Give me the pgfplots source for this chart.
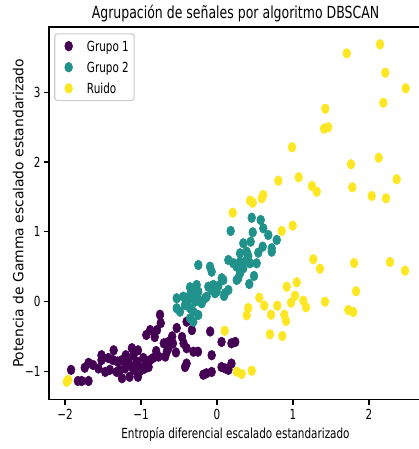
\documentclass[border=0pt]{standalone}
\usepackage{pgfplots}
\pgfplotsset{compat=1.18}
\usepackage{fontspec}
\setmainfont{DejaVu Sans}
\usepackage{graphicx}

\definecolor{vpurple}{HTML}{440154}
\definecolor{vteal}{HTML}{21918C}
\definecolor{vyellow}{HTML}{FDE725}

% narrow horizontal text
\newcommand{\sq}[1]{\scalebox{0.75}[1]{#1}}

\pgfplotstableread{
x y
-1.92 -0.98
-1.83 -1.14
-1.78 -1.14
-1.69 -1.14
-1.69 -0.88
-1.63 -0.91
-1.56 -0.96
-1.52 -0.77
-1.52 -0.84
-1.47 -1.01
-1.41 -0.98
-1.36 -0.70
-1.37 -0.84
-1.31 -0.86
-1.25 -0.84
-1.28 -0.98
-1.25 -1.10
-1.21 -0.96
-1.12 -0.67
-1.10 -0.77
-1.04 -0.70
-1.15 -1.08
-1.12 -0.94
-1.06 -0.86
-1.01 -0.94
-1.04 -1.08
-0.97 -0.81
-0.93 -0.86
-0.88 -0.84
-0.84 -0.81
-0.77 -0.79
-0.95 -0.96
-0.90 -0.94
-0.93 -0.48
-0.88 -0.41
-0.82 -0.51
-0.75 -0.19
-0.74 -0.31
-0.79 -0.41
-0.68 -0.79
-0.64 -0.58
-0.64 -0.67
-0.66 -0.72
-0.53 -0.38
-0.54 -0.73
-0.46 -0.51
-0.44 -0.60
-0.40 -0.67
-0.42 -0.94
-0.40 -0.89
-0.40 -0.29
-0.33 -0.41
-0.31 -0.72
-0.25 -0.72
-0.18 -1.05
-0.14 -1.03
-0.07 -1.01
-0.09 -0.43
-0.07 -0.77
0.06 -0.58
0.06 -0.94
0.11 -0.96
0.19 -0.60
0.24 -0.58
0.19 -0.89
0.15 -0.98
-1.43 -0.81
-1.20 -0.77
-1.17 -0.85
-0.99 -0.98
-1.09 -0.98
-1.32 -1.01
-1.74 -0.95
-0.80 -0.71
-0.70 -0.60
-0.59 -0.50
-0.58 -0.60
}\grupouno

\pgfplotstableread{
x y
0.457 1.201
0.575 1.168
0.180 1.011
0.470 0.992
0.609 1.049
0.675 0.953
0.786 0.882
0.346 0.834
0.443 0.857
0.601 0.786
0.720 0.763
0.720 0.714
0.303 0.691
0.391 0.714
0.543 0.700
0.412 0.652
0.149 0.595
0.214 0.548
0.303 0.571
0.391 0.595
0.434 0.548
0.259 0.499
0.346 0.476
0.522 0.548
-0.246 0.523
-0.092 0.499
-0.070 0.427
0.062 0.333
0.083 0.308
0.280 0.333
0.303 0.404
0.487 0.366
0.425 0.251
-0.355 0.204
-0.267 0.237
-0.246 0.141
-0.312 0.118
-0.114 0.212
-0.070 0.165
-0.026 0.118
0.017 0.222
0.105 0.118
0.149 0.165
0.092 0.079
-0.530 0.046
-0.443 0.069
-0.378 0.022
-0.355 0.093
-0.289 -0.003
-0.246 0.022
-0.201 -0.026
-0.158 0.046
-0.136 0.069
-0.530 -0.097
-0.421 -0.050
-0.355 -0.097
-0.312 -0.146
-0.246 -0.194
-0.487 -0.146
-0.355 -0.241
-0.312 -0.290
-0.049 0.237
-0.004 0.141
0.259 0.308
}\grupodos

\pgfplotstableread{
x y
2.145 3.687
1.707 3.558
2.214 3.280
2.483 3.057
2.188 2.850
1.425 2.764
1.408 2.477
1.464 2.498
0.987 2.211
2.128 2.062
1.763 1.967
2.364 1.752
0.807 1.732
1.075 1.781
1.250 1.656
1.780 1.637
1.312 1.574
2.036 1.513
2.224 1.480
0.434 1.445
0.470 1.416
0.588 1.480
0.609 1.527
0.207 1.273
0.851 1.011
0.996 1.087
1.267 0.605
1.355 0.470
1.803 0.552
2.276 0.566
2.474 0.442
0.917 0.212
1.049 0.275
1.026 0.083
0.974 -0.017
1.136 0.011
1.171 -0.083
1.421 -0.003
1.829 0.146
1.728 -0.122
1.793 -0.151
0.557 0.054
0.622 -0.060
0.793 -0.060
0.412 -0.093
0.391 -0.198
0.711 -0.189
0.886 -0.189
0.908 -0.280
0.101 -0.419
0.697 -0.470
0.859 -0.495
0.259 -1.006
0.325 -1.039
0.457 -0.992
-1.978 -1.150
-1.957 -1.125
}\ruido

\begin{document}
\begin{tikzpicture}
\useasboundingbox (-35.28pt,-35.5pt) rectangle (266.4pt,287.8pt);
\clip (-35.28pt,-35.5pt) rectangle (266.4pt,287.8pt);
\begin{axis}[
  at={(0pt,0pt)}, anchor=south west,
  scale only axis,
  width=268.56pt, height=268.34pt,
  xmin=-2.2105, xmax=2.697,
  ymin=-1.408, ymax=3.935,
  axis line style={line width=0.8pt, black},
  tick style={line width=0.8pt, black},
  tick align=outside,
  major tick length=3.5pt,
  xtick={-2,-1,0,1,2},
  xticklabels={\sq{−2},\sq{−1},\sq{0},\sq{1},\sq{2}},
  ytick={-1,0,1,2,3},
  yticklabels={\sq{−1},\sq{0},\sq{1},\sq{2},\sq{3}},
  xtick pos=bottom, ytick pos=left,
  tick label style={font=\fontsize{10}{12}\selectfont, inner sep=0pt},
  xticklabel style={anchor=base, yshift=-10.6pt},
  yticklabel style={anchor=east, xshift=-2.5pt},
  title={\sq{Agrupación de señales por algoritmo DBSCAN}},
  title style={at={(axis description cs:0.5,1)}, anchor=base, yshift=0.1pt,
    inner sep=0pt, font=\fontsize{12}{14}\selectfont},
  xlabel={\sq{Entropía diferencial escalado estandarizado}},
  xlabel style={at={(axis description cs:0.5,0)}, anchor=base, yshift=-27.8pt,
    inner sep=0pt, font=\fontsize{10}{12}\selectfont},
  ylabel={Potencia de Gamma escalado estandarizado},
  ylabel style={at={(axis description cs:0,0.5)}, anchor=base, yshift=18.5pt,
    inner sep=0pt, font=\fontsize{10}{12}\selectfont},
  legend style={at={(axis description cs:0.014,0.983)}, anchor=north west,
    draw=black!20, line width=0.8pt, rounded corners=2pt,
    fill=white, fill opacity=0.8, text opacity=1,
    font=\fontsize{10}{12}\selectfont,
    inner xsep=3.8pt, inner ysep=2pt, row sep=1.6pt, column sep=3.2pt,
    nodes={inner sep=0pt, anchor=base west}},
  legend cell align=left,
  legend image code/.code={
    \path[draw=none, fill=none] (0pt,-3.2pt) rectangle (16.2pt,10.4pt);
    \draw[#1, fill opacity=1, draw opacity=1, line width=0.4pt] plot coordinates {(6.2pt,3.6pt)};
  },
  every axis plot/.append style={only marks, mark=*, mark size=3.5pt,
    mark options={xscale=0.8}},
]
\addplot[color=vpurple] table {\grupouno};
\addlegendentry{\sq{Grupo 1}}
\addplot[color=vteal] table {\grupodos};
\addlegendentry{\sq{Grupo 2}}
\addplot[color=vyellow] table {\ruido};
\addlegendentry{\sq{Ruido}}
\end{axis}
\end{tikzpicture}
\end{document}
